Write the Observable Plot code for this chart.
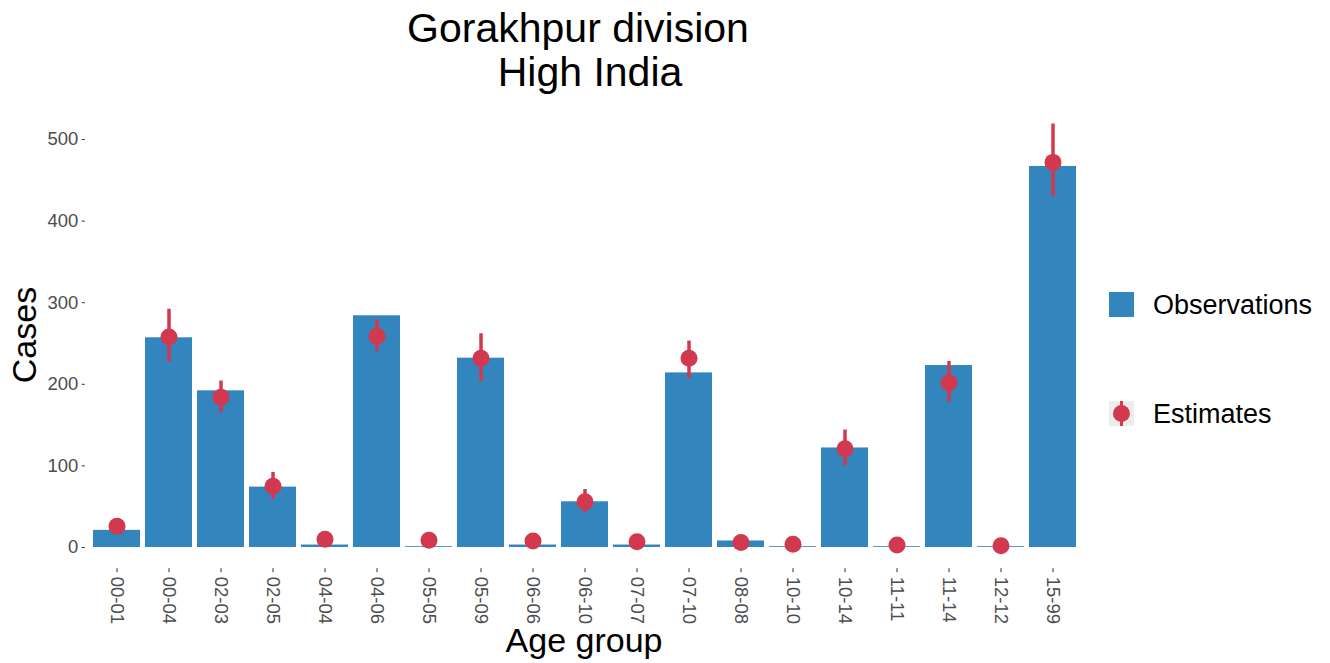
<!DOCTYPE html>
<html><head><meta charset="utf-8">
<script src="https://cdn.jsdelivr.net/npm/d3@7"></script>
<script src="https://cdn.jsdelivr.net/npm/@observablehq/plot@0.6"></script>
<style>
body{margin:0;background:#fff;font-family:"Liberation Sans",Arial,sans-serif;}
#wrap{position:relative;width:1330px;height:663px;overflow:hidden;background:#fff}
#chart,#overlay{position:absolute;left:0;top:0}
#overlay{pointer-events:none}
</style></head><body>
<div id="wrap"><div id="chart"></div>
<svg id="overlay" width="1330" height="663" font-family="Liberation Sans, Arial, sans-serif">
  <text x="578" y="42" font-size="41" text-anchor="middle" fill="#000">Gorakhpur division</text>
  <text x="590" y="86" font-size="41" text-anchor="middle" fill="#000">High India</text>
  <text transform="translate(36,335) rotate(-90)" font-size="34" text-anchor="middle" fill="#000">Cases</text>
  <text x="584" y="652" font-size="34" text-anchor="middle" fill="#000">Age group</text>
  <g id="legend"></g>
</svg>
</div>
<script>
const groups = ["00-01","00-04","02-03","02-05","04-04","04-06","05-05","05-09","06-06","06-10","07-07","07-10","08-08","10-10","10-14","11-11","11-14","12-12","15-99"];
const observations = [21,257,192,74,3,284,1,232,3,56,3,214,8,1,122,1,223,1,467];
const estimates = [26,258,184,75,10,259,9,232,8,56,7,232,6,4,121,3,202,2,472];
const lower = [null,227,165,59,null,240,null,203,null,43,null,207,null,null,100,null,178,null,430];
const upper = [null,292,204,92,null,279,null,262,null,71,null,253,null,null,144,null,228,null,519];
const yTicks = [0,100,200,300,400,500];
const seriesNames = ["Observations","Estimates"];

const barColor = "#3385bd";
const dotColor = "#d3394e";

const data = groups.map((g,i)=>({group:g, obs:observations[i], est:estimates[i], lo:lower[i], hi:upper[i]}));

const chart = Plot.plot({
  width: 1330, height: 663,
  marginLeft: 84.8, marginRight: 246.8, marginTop: 101.5, marginBottom: 94.8,
  style: {fontFamily: "Liberation Sans, Arial, sans-serif", color: "#4d4d4d", background: "transparent"},
  x: {domain: groups, paddingInner: 0.1, paddingOuter: 0.15, align: 0.5},
  y: {domain: [-26, 546]},
  marks: [
    Plot.barY(data, {x: "group", y: "obs", fill: barColor}),
    Plot.ruleX(data, {x: "group", y1: "lo", y2: "hi", stroke: dotColor, strokeWidth: 3.5}),
    Plot.dot(data, {x: "group", y: "est", r: 8.5, fill: dotColor}),
    Plot.axisY({ticks: yTicks, tickSize: 3, tickPadding: 4, fontSize: 18.5, label: null, stroke: "#333"}),
    Plot.axisX({tickRotate: 90, tickSize: 4, tickPadding: 4, fontSize: 18.5, label: null, stroke: "#333"})
  ]
});
document.getElementById("chart").appendChild(chart);

// legend
const lg = d3.select("#legend");
lg.append("rect").attr("x",1109).attr("y",292).attr("width",25).attr("height",25).attr("fill",barColor);
lg.append("text").attr("x",1153).attr("y",314).attr("font-size",27).attr("fill","#000").text(seriesNames[0]);
lg.append("rect").attr("x",1109).attr("y",401).attr("width",25).attr("height",25).attr("fill","#ededed");
lg.append("line").attr("x1",1121.5).attr("x2",1121.5).attr("y1",401).attr("y2",426).attr("stroke",dotColor).attr("stroke-width",3);
lg.append("circle").attr("cx",1121.5).attr("cy",413.5).attr("r",8.5).attr("fill",dotColor);
lg.append("text").attr("x",1153).attr("y",423).attr("font-size",27).attr("fill","#000").text(seriesNames[1]);
</script>
</body></html>
